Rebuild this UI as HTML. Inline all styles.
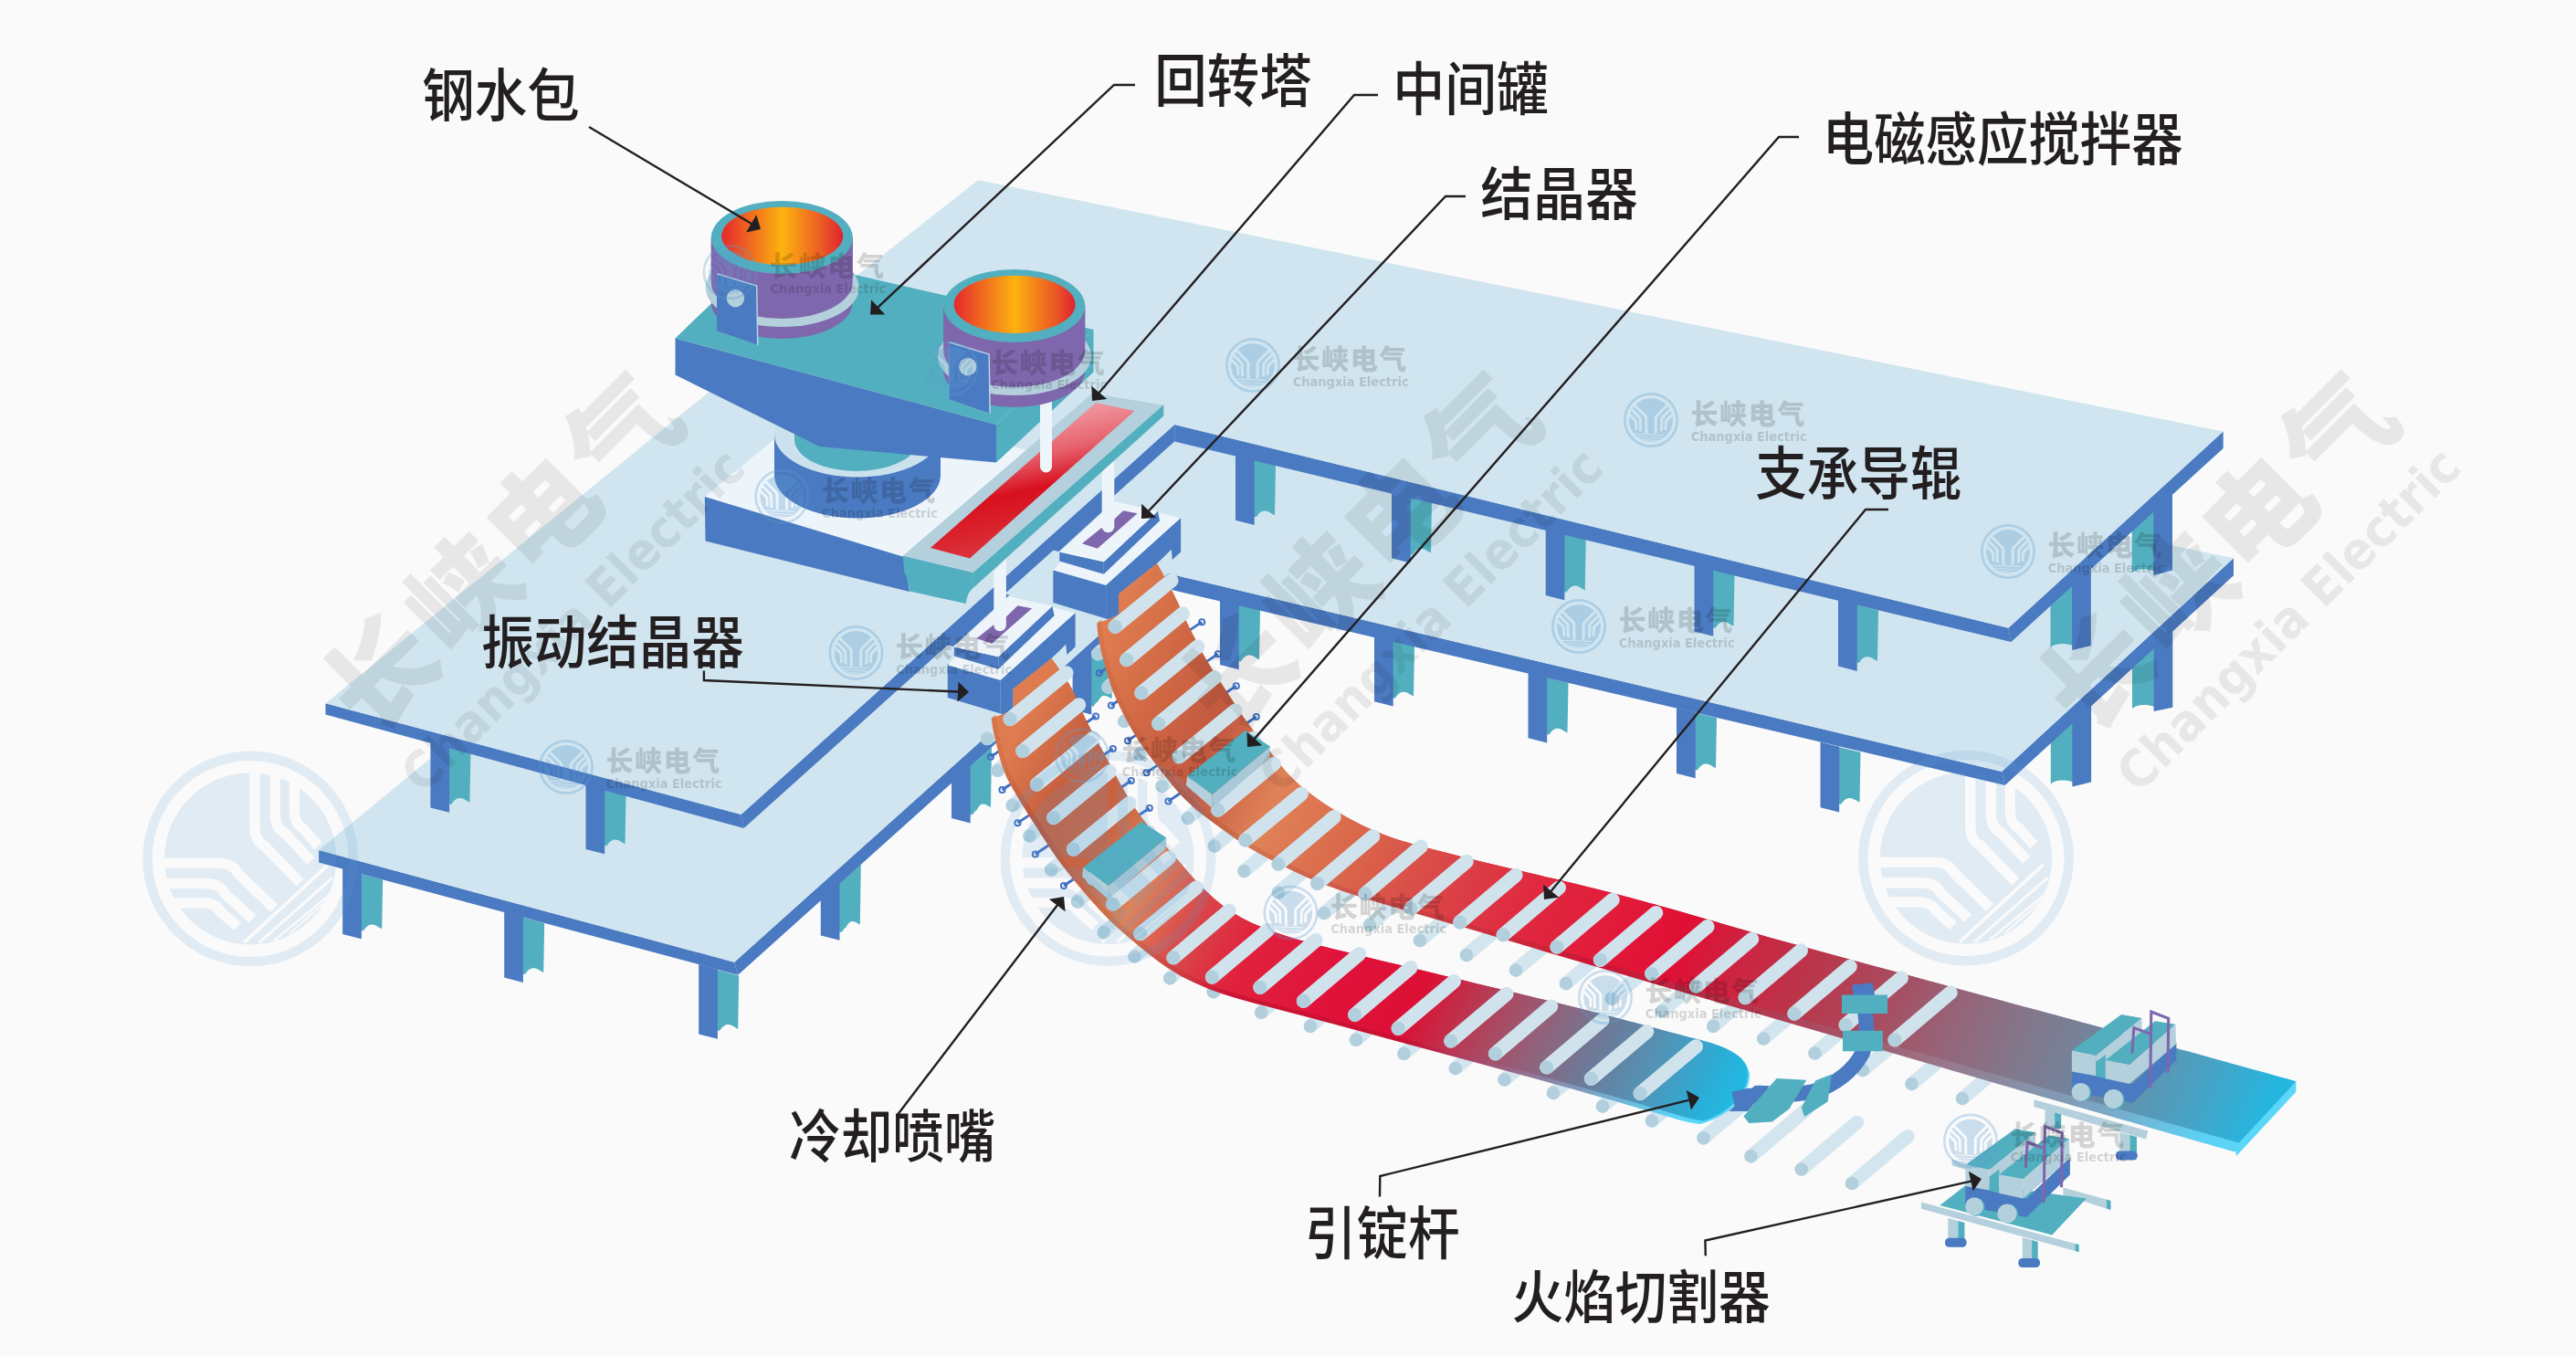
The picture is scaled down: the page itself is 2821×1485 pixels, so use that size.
<!DOCTYPE html>
<html lang="zh"><head><meta charset="utf-8"><title>连铸机示意图</title>
<style>html,body{margin:0;padding:0;background:#fafafa;overflow:hidden}svg{display:block}
text{font-family:"Liberation Sans","Noto Sans CJK SC",sans-serif}</style></head>
<body><svg xmlns="http://www.w3.org/2000/svg" width="2821" height="1485" viewBox="0 0 2821 1485">
<rect width="2821" height="1485" fill="#fafafa"/>
<path d="M1355.7,661.7 L1380.0,667.5 L1379.0,722.4 C1372.0,718.4 1368.7,715.9 1363.7,719.0 C1360.7,720.5 1359.7,724.5 1358.2,724.5 L1355.7,723.5 Z" fill="#52afbf" />
<polygon points="1336.0,656.5 1356.7,661.5 1356.7,733.3 1336.0,728.0" fill="#4a7ac1" />
<path d="M1524.7,701.9 L1549.0,707.7 L1548.0,762.6 C1541.0,758.6 1537.7,756.1 1532.7,759.2 C1529.7,760.7 1528.7,764.7 1527.2,764.7 L1524.7,763.7 Z" fill="#52afbf" />
<polygon points="1505.0,696.7 1525.7,701.6 1525.7,773.5 1505.0,768.2" fill="#4a7ac1" />
<path d="M1693.2,741.9 L1717.5,747.7 L1716.5,802.6 C1709.5,798.6 1706.2,796.1 1701.2,799.2 C1698.2,800.7 1697.2,804.7 1695.7,804.7 L1693.2,803.7 Z" fill="#52afbf" />
<polygon points="1673.5,736.7 1694.2,741.7 1694.2,813.5 1673.5,808.2" fill="#4a7ac1" />
<path d="M1855.7,780.5 L1880.0,786.3 L1879.0,841.3 C1872.0,837.3 1868.7,834.8 1863.7,837.9 C1860.7,839.4 1859.7,843.4 1858.2,843.4 L1855.7,842.4 Z" fill="#52afbf" />
<polygon points="1836.0,775.4 1856.7,780.3 1856.7,852.2 1836.0,846.9" fill="#4a7ac1" />
<path d="M2013.2,818.0 L2037.5,823.7 L2036.5,878.7 C2029.5,874.7 2026.2,872.2 2021.2,875.3 C2018.2,876.8 2017.2,880.8 2015.7,880.8 L2013.2,879.8 Z" fill="#52afbf" />
<polygon points="1993.5,812.8 2014.2,817.7 2014.2,889.6 1993.5,884.3" fill="#4a7ac1" />
<path d="M2270.4,788.9 L2245.8,811.6 L2245.8,858.5 C2250.8,854.5 2258.8,853.0 2270.4,856.5 L2270.4,861.5 Z" fill="#52afbf" />
<polygon points="2269.4,789.4 2290.1,770.4 2290.1,856.5 2269.4,861.5" fill="#4a7ac1" />
<path d="M2359.6,706.8 L2335.0,729.5 L2335.0,776.0 C2340.0,772.0 2348.0,770.5 2359.6,774.0 L2359.6,779.0 Z" fill="#52afbf" />
<polygon points="2358.6,707.3 2379.3,688.2 2379.3,774.7 2358.6,779.0" fill="#4a7ac1" />
<path d="M394.9,956.7 L419.2,963.3 L418.2,1017.3 C411.2,1013.3 407.9,1010.8 402.9,1013.9 C399.9,1015.4 398.9,1019.4 397.4,1019.4 L394.9,1018.4 Z" fill="#52afbf" />
<polygon points="375.2,950.9 395.9,956.5 395.9,1028.2 375.2,1022.9" fill="#4a7ac1" />
<path d="M571.9,1004.4 L596.2,1011.0 L595.2,1065.0 C588.2,1061.0 584.9,1058.5 579.9,1061.6 C576.9,1063.1 575.9,1067.1 574.4,1067.1 L571.9,1066.1 Z" fill="#52afbf" />
<polygon points="552.2,998.6 572.9,1004.2 572.9,1075.9 552.2,1070.6" fill="#4a7ac1" />
<path d="M784.9,1061.8 L809.2,1068.4 L808.2,1126.9 C801.2,1122.9 797.9,1120.4 792.9,1123.5 C789.9,1125.0 788.9,1129.0 787.4,1129.0 L784.9,1128.0 Z" fill="#52afbf" />
<polygon points="765.2,1056.0 785.9,1061.6 785.9,1137.8 765.2,1132.5" fill="#4a7ac1" />
<path d="M918.5,968.2 L942.8,946.4 L941.8,1012.5 C934.8,1008.5 931.5,1006.0 926.5,1015.5 C923.5,1017.0 922.5,1021.0 921.0,1021.0 L918.5,1020.0 Z" fill="#52afbf" />
<polygon points="898.8,985.3 919.5,966.8 919.5,1029.8 898.8,1024.5" fill="#4a7ac1" />
<path d="M1061.7,839.8 L1086.0,818.0 L1085.0,884.1 C1078.0,880.1 1074.7,877.6 1069.7,887.1 C1066.7,888.6 1065.7,892.6 1064.2,892.6 L1061.7,891.6 Z" fill="#52afbf" />
<polygon points="1042.0,856.9 1062.7,838.4 1062.7,901.4 1042.0,896.1" fill="#4a7ac1" />
<path d="M1194.3,720.9 L1218.6,699.1 L1217.6,765.3 C1210.6,761.3 1207.3,758.8 1202.3,768.3 C1199.3,769.8 1198.3,773.8 1196.8,773.8 L1194.3,772.8 Z" fill="#52afbf" />
<polygon points="1174.6,738.1 1195.3,719.5 1195.3,782.6 1174.6,777.3" fill="#4a7ac1" />
<polygon points="349.1,931.1 804.1,1053.7 808.1,1067.7 349.1,944.5" fill="#4a7ac1" />
<polygon points="804.1,1053.7 1279.0,628.0 1279.0,645.0 808.1,1067.7" fill="#4a7ac1" />
<polygon points="1279.0,628.0 2192.2,845.0 2195.7,860.0 1279.0,645.0" fill="#4a7ac1" />
<polygon points="2192.2,845.0 2446.0,611.3 2446.0,630.2 2195.7,860.0" fill="#4a7ac1" />
<polygon points="1080.0,330.0 2446.0,611.3 2192.2,845.0 1279.0,628.0 804.1,1053.7 349.1,931.1" fill="#d0e5ef" />
<path d="M1372.7,502.6 L1397.0,508.5 L1396.0,564.2 C1389.0,560.2 1385.7,557.7 1380.7,560.8 C1377.7,562.3 1376.7,566.3 1375.2,566.3 L1372.7,565.3 Z" fill="#52afbf" />
<polygon points="1353.0,497.3 1373.7,502.3 1373.7,575.1 1353.0,569.8" fill="#4a7ac1" />
<path d="M1543.7,544.0 L1568.0,549.9 L1567.0,605.6 C1560.0,601.6 1556.7,599.1 1551.7,602.2 C1548.7,603.7 1547.7,607.7 1546.2,607.7 L1543.7,606.7 Z" fill="#52afbf" />
<polygon points="1524.0,538.7 1544.7,543.7 1544.7,616.5 1524.0,611.2" fill="#4a7ac1" />
<path d="M1712.4,584.8 L1736.7,590.7 L1735.7,646.4 C1728.7,642.4 1725.4,639.9 1720.4,643.0 C1717.4,644.5 1716.4,648.5 1714.9,648.5 L1712.4,647.5 Z" fill="#52afbf" />
<polygon points="1692.7,579.5 1713.4,584.6 1713.4,657.3 1692.7,652.0" fill="#4a7ac1" />
<path d="M1875.2,624.2 L1899.5,630.1 L1898.5,685.8 C1891.5,681.8 1888.2,679.3 1883.2,682.4 C1880.2,683.9 1879.2,687.9 1877.7,687.9 L1875.2,686.9 Z" fill="#52afbf" />
<polygon points="1855.5,618.9 1876.2,624.0 1876.2,696.7 1855.5,691.4" fill="#4a7ac1" />
<path d="M2032.7,662.4 L2057.0,668.3 L2056.0,724.0 C2049.0,720.0 2045.7,717.5 2040.7,720.6 C2037.7,722.1 2036.7,726.1 2035.2,726.1 L2032.7,725.1 Z" fill="#52afbf" />
<polygon points="2013.0,657.1 2033.7,662.1 2033.7,734.9 2013.0,729.6" fill="#4a7ac1" />
<path d="M2270.1,638.5 L2245.5,661.0 L2245.5,708.9 C2250.5,704.9 2258.5,703.4 2270.1,706.9 L2270.1,711.9 Z" fill="#52afbf" />
<polygon points="2269.1,639.0 2289.8,620.0 2289.8,707.0 2269.1,711.9" fill="#4a7ac1" />
<path d="M2359.3,556.9 L2334.7,579.5 L2334.7,627.2 C2339.7,623.2 2347.7,621.7 2359.3,625.2 L2359.3,630.2 Z" fill="#52afbf" />
<polygon points="2358.3,557.4 2379.0,538.4 2379.0,624.6 2358.3,630.2" fill="#4a7ac1" />
<path d="M491.1,818.7 L515.4,825.2 L514.4,878.8 C507.4,874.8 504.1,872.3 499.1,875.4 C496.1,876.9 495.1,880.9 493.6,880.9 L491.1,879.9 Z" fill="#52afbf" />
<polygon points="471.4,812.9 492.1,818.5 492.1,889.7 471.4,884.4" fill="#4a7ac1" />
<path d="M661.2,864.2 L685.5,870.7 L684.5,924.3 C677.5,920.3 674.2,917.8 669.2,920.9 C666.2,922.4 665.2,926.4 663.7,926.4 L661.2,925.4 Z" fill="#52afbf" />
<polygon points="641.5,858.4 662.2,863.9 662.2,935.2 641.5,929.9" fill="#4a7ac1" />
<polygon points="356.5,770.2 811.6,891.9 814.6,906.9 356.5,782.6" fill="#4a7ac1" />
<polygon points="811.6,891.9 1286.2,465.1 1286.2,483.5 814.6,906.9" fill="#4a7ac1" />
<polygon points="1286.2,465.1 2199.4,687.7 2202.4,703.0 1286.2,483.5" fill="#4a7ac1" />
<polygon points="2199.4,687.7 2434.7,472.5 2434.7,490.9 2202.4,703.0" fill="#4a7ac1" />
<polygon points="1071.1,197.2 2434.7,472.5 2199.4,687.7 1286.2,465.1 811.6,891.9 356.5,770.2 774.9,430.5" fill="#d0e5ef" />
<polygon points="771.8,544.1 905.0,433.5 1150.0,500.0 1040.0,640.0 990.0,610.0" fill="#edf5fb" />
<polygon points="771.8,544.1 990.0,610.0 996.0,648.0 772.5,592.5" fill="#4a7ac1" />
<path d="M848.0,475.5 L848.0,520.5 A91.0,47.0 0 0 0 1030.0,520.5 L1030.0,475.5 Z" fill="#4a7ac1" />
<ellipse cx="939.0" cy="475.5" rx="91.0" ry="47.0" fill="#cbe2ee" />
<path d="M870.0,440.0 L870.0,481.0 A68.0,35.0 0 0 0 1006.0,481.0 L1006.0,440.0 Z" fill="#52afbf" />
<polygon points="739.5,370.5 1091.0,465.0 1091.0,506.5 897.5,489.0 739.5,410.6" fill="#4a7ac1" />
<polygon points="1091.0,465.0 1197.5,361.0 1197.5,407.5 1091.0,506.5" fill="#52afbf" />
<polygon points="739.5,370.5 835.7,277.7 1197.5,361.0 1091.0,465.0" fill="#52afbf" />
<path d="M778.8,260.0 L778.8,331.0 A77.5,40.0 0 0 0 933.8,331.0 L933.8,260.0 Z" fill="#7f67ad" />
<ellipse cx="856.7" cy="315.0" rx="84.0" ry="43.0" fill="#b3d0dc" />
<path d="M778.8,260.0 L778.8,309.0 A77.5,40.0 0 0 0 933.8,309.0 L933.8,260.0 Z" fill="#7f67ad" />
<ellipse cx="856.3" cy="260.0" rx="77.5" ry="40.0" fill="#52afbf" />
<ellipse cx="856.7" cy="258.4" rx="66.5" ry="31.7" fill="url(#melt1)" />
<polygon points="785.0,299.0 829.4,312.4 830.5,378.0 785.0,362.5" fill="#b9d6e3" />
<polygon points="785.0,300.6 828.0,313.6 829.0,377.5 785.0,362.5" fill="#4a7ac1" />
<circle cx="805.4" cy="326.7" r="9.7" fill="#b3d0dc" />
<polygon points="1150.5,602.0 1212.0,545.5 1221.0,547.5 1159.5,604.0" fill="#4a7ac1" />
<polygon points="1153.3,624.6 1221.5,549.3 1293.1,567.3 1211.1,640.9" fill="#edf5fb" />
<polygon points="1153.3,624.6 1211.1,640.9 1211.1,677.4 1153.3,660.1" fill="#4a7ac1" />
<polygon points="1211.1,640.9 1293.1,567.3 1293.1,604.6 1283.8,613.0 1282.8,601.8 1267.0,617.1 1225.1,650.6 1225.1,673.0 1213.9,678.5 1211.1,677.4" fill="#4a7ac1" />
<polygon points="1160.3,604.6 1208.8,615.3 1208.8,628.8 1160.3,614.4" fill="#4a7ac1" />
<polygon points="1208.8,615.3 1267.9,559.8 1270.1,570.3 1208.8,628.8" fill="#4a7ac1" />
<polygon points="1160.3,604.6 1220.4,549.6 1267.9,559.8 1208.8,615.3" fill="#edf5fb" />
<polygon points="1185.0,595.2 1206.4,578.0 1209.0,579.5 1230.0,559.2 1245.6,562.2 1201.8,600.8" fill="#7f67ad" />
<path d="M1206.7,500.0 L1206.7,576.5 A6.8,6.8 0 0 0 1220.3,576.5 L1220.3,500.0 Z" fill="#edf5fb"/>
<path d="M988.9,608.5 L1065.8,627.1 L1065.3,643.9 Q1058.5,650 1057.9,661.1 L996.3,647.6 Q994,632 990.3,627.1 Z" fill="#52afbf" />
<polygon points="1065.8,627.1 1274.0,443.5 1274.0,455.5 1065.3,643.9" fill="#52afbf" stroke="#52afbf" stroke-width="0.6"/>
<polygon points="1196.0,431.0 1274.0,443.5 1065.8,627.1 988.9,608.5" fill="#b3d0dc" />
<polygon points="1200.0,441.0 1242.5,450.0 1062.0,611.5 1019.0,600.0" fill="url(#tun)" />
<path d="M1139,440 L1139,511 A6.5,6.5 0 0 0 1152,511 L1152,440 Z" fill="#edf5fb"/>
<path d="M1033.2,335.0 L1033.2,406.0 A77.5,40.0 0 0 0 1188.2,406.0 L1188.2,335.0 Z" fill="#7f67ad" />
<ellipse cx="1111.1" cy="390.0" rx="84.0" ry="43.0" fill="#b3d0dc" />
<path d="M1033.2,335.0 L1033.2,384.0 A77.5,40.0 0 0 0 1188.2,384.0 L1188.2,335.0 Z" fill="#7f67ad" />
<ellipse cx="1110.7" cy="335.0" rx="77.5" ry="40.0" fill="#52afbf" />
<ellipse cx="1111.1" cy="333.4" rx="66.5" ry="31.7" fill="url(#melt2)" />
<polygon points="1039.4,374.0 1083.8,387.4 1084.9,453.0 1039.4,437.5" fill="#b9d6e3" />
<polygon points="1039.4,375.6 1082.4,388.6 1083.4,452.5 1039.4,437.5" fill="#4a7ac1" />
<circle cx="1059.8" cy="401.7" r="9.7" fill="#b3d0dc" />
<polygon points="2239.5,1212.0 2250.1,1214.0 2250.1,1236.0 2239.5,1236.0" fill="#b3d0dc" />
<polygon points="2250.1,1214.0 2257.2,1216.0 2257.2,1236.0 2250.1,1236.0" fill="#52afbf" />
<polygon points="2321.3,1240.0 2332.4,1243.0 2332.4,1262.0 2321.3,1262.0" fill="#b3d0dc" />
<polygon points="2332.4,1243.0 2340.0,1245.0 2340.0,1262.0 2332.4,1262.0" fill="#52afbf" />
<rect x="2317.0" y="1260.6" width="23.8" height="10.0" rx="4.5" ry="4.5" fill="#4a7ac1"/>
<polygon points="2227.3,1204.2 2352.3,1238.5 2350.0,1247.5 2227.3,1212.0" fill="#b3d0dc" />
<line x1="1202.5" y1="716.0" x2="1263.5" y2="664.5" stroke="#d3e5ee" stroke-width="15.0" stroke-linecap="round"/>
<circle cx="1202.5" cy="716.0" r="7.2" fill="#b1cfdc"/>
<line x1="1213.8" y1="752.5" x2="1274.8" y2="701.0" stroke="#d3e5ee" stroke-width="15.0" stroke-linecap="round"/>
<circle cx="1213.8" cy="752.5" r="7.2" fill="#b1cfdc"/>
<line x1="1231.2" y1="790.0" x2="1292.2" y2="738.5" stroke="#d3e5ee" stroke-width="15.0" stroke-linecap="round"/>
<circle cx="1231.2" cy="790.0" r="7.2" fill="#b1cfdc"/>
<line x1="1248.0" y1="826.0" x2="1309.0" y2="774.5" stroke="#d3e5ee" stroke-width="15.0" stroke-linecap="round"/>
<circle cx="1248.0" cy="826.0" r="7.2" fill="#b1cfdc"/>
<line x1="1272.5" y1="861.0" x2="1333.5" y2="809.5" stroke="#d3e5ee" stroke-width="15.0" stroke-linecap="round"/>
<circle cx="1272.5" cy="861.0" r="7.2" fill="#b1cfdc"/>
<line x1="1301.0" y1="896.0" x2="1362.0" y2="844.5" stroke="#d3e5ee" stroke-width="15.0" stroke-linecap="round"/>
<circle cx="1301.0" cy="896.0" r="7.2" fill="#b1cfdc"/>
<line x1="1330.0" y1="926.5" x2="1391.0" y2="875.0" stroke="#d3e5ee" stroke-width="15.0" stroke-linecap="round"/>
<circle cx="1330.0" cy="926.5" r="7.2" fill="#b1cfdc"/>
<line x1="1362.5" y1="954.0" x2="1423.5" y2="902.5" stroke="#d3e5ee" stroke-width="15.0" stroke-linecap="round"/>
<circle cx="1362.5" cy="954.0" r="7.2" fill="#b1cfdc"/>
<line x1="1400.0" y1="977.5" x2="1461.0" y2="926.0" stroke="#d3e5ee" stroke-width="15.0" stroke-linecap="round"/>
<circle cx="1400.0" cy="977.5" r="7.2" fill="#b1cfdc"/>
<line x1="1450.0" y1="1000.0" x2="1511.0" y2="948.5" stroke="#d3e5ee" stroke-width="15.0" stroke-linecap="round"/>
<circle cx="1450.0" cy="1000.0" r="7.2" fill="#b1cfdc"/>
<line x1="1500.0" y1="1013.0" x2="1561.0" y2="961.5" stroke="#d3e5ee" stroke-width="15.0" stroke-linecap="round"/>
<circle cx="1500.0" cy="1013.0" r="7.2" fill="#b1cfdc"/>
<line x1="1555.0" y1="1030.0" x2="1616.0" y2="978.5" stroke="#d3e5ee" stroke-width="15.0" stroke-linecap="round"/>
<circle cx="1555.0" cy="1030.0" r="7.2" fill="#b1cfdc"/>
<line x1="1606.0" y1="1046.0" x2="1667.0" y2="994.5" stroke="#d3e5ee" stroke-width="15.0" stroke-linecap="round"/>
<circle cx="1606.0" cy="1046.0" r="7.2" fill="#b1cfdc"/>
<line x1="1660.0" y1="1062.5" x2="1721.0" y2="1011.0" stroke="#d3e5ee" stroke-width="15.0" stroke-linecap="round"/>
<circle cx="1660.0" cy="1062.5" r="7.2" fill="#b1cfdc"/>
<line x1="1715.0" y1="1077.0" x2="1776.0" y2="1025.5" stroke="#d3e5ee" stroke-width="15.0" stroke-linecap="round"/>
<circle cx="1715.0" cy="1077.0" r="7.2" fill="#b1cfdc"/>
<line x1="1765.0" y1="1093.8" x2="1826.0" y2="1042.2" stroke="#d3e5ee" stroke-width="15.0" stroke-linecap="round"/>
<circle cx="1765.0" cy="1093.8" r="7.2" fill="#b1cfdc"/>
<line x1="1820.0" y1="1107.5" x2="1881.0" y2="1056.0" stroke="#d3e5ee" stroke-width="15.0" stroke-linecap="round"/>
<circle cx="1820.0" cy="1107.5" r="7.2" fill="#b1cfdc"/>
<line x1="1876.2" y1="1123.8" x2="1937.2" y2="1072.2" stroke="#d3e5ee" stroke-width="15.0" stroke-linecap="round"/>
<circle cx="1876.2" cy="1123.8" r="7.2" fill="#b1cfdc"/>
<line x1="1931.2" y1="1137.5" x2="1992.2" y2="1086.0" stroke="#d3e5ee" stroke-width="15.0" stroke-linecap="round"/>
<circle cx="1931.2" cy="1137.5" r="7.2" fill="#b1cfdc"/>
<line x1="1987.5" y1="1153.5" x2="2048.5" y2="1102.0" stroke="#d3e5ee" stroke-width="15.0" stroke-linecap="round"/>
<circle cx="1987.5" cy="1153.5" r="7.2" fill="#b1cfdc"/>
<line x1="2040.0" y1="1172.0" x2="2101.0" y2="1120.5" stroke="#d3e5ee" stroke-width="15.0" stroke-linecap="round"/>
<circle cx="2040.0" cy="1172.0" r="7.2" fill="#b1cfdc"/>
<line x1="2093.6" y1="1187.0" x2="2154.6" y2="1135.5" stroke="#d3e5ee" stroke-width="15.0" stroke-linecap="round"/>
<circle cx="2093.6" cy="1187.0" r="7.2" fill="#b1cfdc"/>
<line x1="2149.0" y1="1203.0" x2="2210.0" y2="1151.5" stroke="#d3e5ee" stroke-width="15.0" stroke-linecap="round"/>
<circle cx="2149.0" cy="1203.0" r="7.2" fill="#b1cfdc"/>
<line x1="1203.8" y1="737.0" x2="1223.8" y2="723.5" stroke="#3f6fc2" stroke-width="2.8"/>
<circle cx="1203.8" cy="737.0" r="3.1" fill="none" stroke="#3f6fc2" stroke-width="1.9"/>
<line x1="1217.0" y1="772.5" x2="1237.0" y2="759.0" stroke="#3f6fc2" stroke-width="2.8"/>
<circle cx="1217.0" cy="772.5" r="3.1" fill="none" stroke="#3f6fc2" stroke-width="1.9"/>
<line x1="1235.0" y1="811.2" x2="1255.0" y2="797.8" stroke="#3f6fc2" stroke-width="2.8"/>
<circle cx="1235.0" cy="811.2" r="3.1" fill="none" stroke="#3f6fc2" stroke-width="1.9"/>
<line x1="1255.5" y1="846.2" x2="1275.5" y2="832.8" stroke="#3f6fc2" stroke-width="2.8"/>
<circle cx="1255.5" cy="846.2" r="3.1" fill="none" stroke="#3f6fc2" stroke-width="1.9"/>
<line x1="1279.5" y1="877.5" x2="1299.5" y2="864.0" stroke="#3f6fc2" stroke-width="2.8"/>
<circle cx="1279.5" cy="877.5" r="3.1" fill="none" stroke="#3f6fc2" stroke-width="1.9"/>
<line x1="1316.2" y1="681.2" x2="1294.2" y2="695.8" stroke="#3f6fc2" stroke-width="2.8"/>
<circle cx="1316.2" cy="681.2" r="3.1" fill="none" stroke="#3f6fc2" stroke-width="1.9"/>
<line x1="1333.8" y1="716.2" x2="1311.8" y2="730.8" stroke="#3f6fc2" stroke-width="2.8"/>
<circle cx="1333.8" cy="716.2" r="3.1" fill="none" stroke="#3f6fc2" stroke-width="1.9"/>
<line x1="1353.8" y1="751.2" x2="1331.8" y2="765.8" stroke="#3f6fc2" stroke-width="2.8"/>
<circle cx="1353.8" cy="751.2" r="3.1" fill="none" stroke="#3f6fc2" stroke-width="1.9"/>
<line x1="1375.8" y1="785.0" x2="1353.8" y2="799.5" stroke="#3f6fc2" stroke-width="2.8"/>
<circle cx="1375.8" cy="785.0" r="3.1" fill="none" stroke="#3f6fc2" stroke-width="1.9"/>
<path d="M1201.2,682.5 L1213.9,678.5 L1225.1,673 L1225.1,650.6 L1267.0,617.1 C1270.0,622.6 1278.9,637.9 1285.0,650.0 C1291.1,662.1 1297.5,677.5 1303.8,690.0 C1310.0,702.5 1315.6,713.3 1322.5,725.0 C1329.4,736.7 1337.9,749.2 1345.0,760.0 C1352.1,770.8 1357.5,779.7 1365.0,790.0 C1372.5,800.3 1382.2,812.2 1390.0,822.0 C1397.8,831.8 1404.1,840.8 1412.0,849.0 C1419.9,857.2 1427.0,863.3 1437.5,871.0 C1448.0,878.7 1460.4,887.2 1475.0,895.0 C1489.6,902.8 1504.2,910.3 1525.0,917.5 C1545.8,924.7 1575.0,931.6 1600.0,938.0 C1625.0,944.4 1651.0,950.2 1675.0,956.0 C1699.0,961.8 1719.0,966.2 1744.0,972.5 C1769.0,978.8 1790.7,984.4 1825.0,994.0 C1859.3,1003.6 1908.3,1018.3 1950.0,1030.0 C1991.7,1041.7 2033.3,1052.7 2075.0,1064.0 C2116.7,1075.3 2162.5,1087.8 2200.0,1098.0 C2237.5,1108.2 2247.6,1110.6 2300.0,1125.0 C2352.4,1139.4 2478.7,1174.3 2514.4,1184.2 L2447.4,1261.6 C2410.5,1251.0 2288.1,1215.9 2226.0,1198.0 C2163.9,1180.0 2121.0,1167.3 2075.0,1153.9 C2029.0,1140.5 1991.7,1129.7 1950.0,1117.6 C1908.3,1105.5 1866.7,1093.4 1825.0,1081.2 C1783.3,1069.0 1733.3,1054.3 1700.0,1044.4 C1666.7,1034.5 1650.0,1029.2 1625.0,1021.9 C1600.0,1014.5 1575.0,1007.7 1550.0,1000.3 C1525.0,993.0 1495.8,984.6 1475.0,977.5 C1454.2,970.4 1441.7,965.5 1425.0,958.0 C1408.3,950.5 1389.6,940.9 1375.0,932.5 C1360.4,924.1 1350.0,916.7 1337.5,907.5 C1325.0,898.3 1312.1,889.4 1300.0,877.5 C1287.9,865.6 1275.0,848.9 1265.0,836.0 C1255.0,823.1 1247.5,812.7 1240.0,800.0 C1232.5,787.3 1225.4,773.3 1220.0,760.0 C1214.6,746.7 1210.4,730.8 1207.5,720.0 C1204.6,709.2 1203.5,701.2 1202.5,695.0 C1201.5,688.8 1201.4,684.6 1201.2,682.5 Z" fill="url(#g2s)"/>
<polygon points="2514.4,1184.2 2514.4,1195.8 2449.0,1266.0 2447.4,1255.1" fill="#5ad6f8" />
<path d="M1201.2,682.5 L1213.9,678.5 L1225.1,673 L1225.1,650.6 L1267.0,617.1 C1270.0,622.6 1278.9,637.9 1285.0,650.0 C1291.1,662.1 1297.5,677.5 1303.8,690.0 C1310.0,702.5 1315.6,713.3 1322.5,725.0 C1329.4,736.7 1337.9,749.2 1345.0,760.0 C1352.1,770.8 1357.5,779.7 1365.0,790.0 C1372.5,800.3 1382.2,812.2 1390.0,822.0 C1397.8,831.8 1404.1,840.8 1412.0,849.0 C1419.9,857.2 1427.0,863.3 1437.5,871.0 C1448.0,878.7 1460.4,887.2 1475.0,895.0 C1489.6,902.8 1504.2,910.3 1525.0,917.5 C1545.8,924.7 1575.0,931.6 1600.0,938.0 C1625.0,944.4 1651.0,950.2 1675.0,956.0 C1699.0,961.8 1719.0,966.2 1744.0,972.5 C1769.0,978.8 1790.7,984.4 1825.0,994.0 C1859.3,1003.6 1908.3,1018.3 1950.0,1030.0 C1991.7,1041.7 2033.3,1052.7 2075.0,1064.0 C2116.7,1075.3 2162.5,1087.8 2200.0,1098.0 C2237.5,1108.2 2247.6,1110.6 2300.0,1125.0 C2352.4,1139.4 2478.7,1174.3 2514.4,1184.2 L2451.9,1251.6 C2415.0,1241.2 2292.6,1207.0 2230.5,1189.5 C2168.4,1172.0 2125.5,1159.6 2079.5,1146.5 C2033.5,1133.4 1996.2,1122.8 1954.5,1111.0 C1912.8,1099.2 1871.2,1087.4 1829.5,1075.5 C1787.8,1063.6 1737.8,1049.2 1704.5,1039.5 C1671.2,1029.8 1654.5,1024.7 1629.5,1017.5 C1604.5,1010.3 1579.5,1003.8 1554.5,996.5 C1529.5,989.2 1500.3,981.0 1479.5,974.0 C1458.7,967.0 1446.2,962.0 1429.5,954.5 C1412.8,947.0 1394.1,937.4 1379.5,929.0 C1364.9,920.6 1354.5,913.2 1342.0,904.0 C1329.5,894.8 1316.6,885.9 1304.5,874.0 C1292.4,862.1 1279.5,845.4 1269.5,832.5 C1259.5,819.6 1252.0,809.2 1244.5,796.5 C1237.0,783.8 1229.9,769.8 1224.5,756.5 C1219.1,743.2 1214.9,727.3 1212.0,716.5 C1209.1,705.7 1208.0,697.8 1207.0,691.5 C1206.0,685.2 1205.9,681.1 1205.7,679.0 Z" fill="url(#g2)"/>
<line x1="1221.2" y1="686.2" x2="1282.8" y2="635.8" stroke="#d0e3ec" stroke-width="15.5" stroke-linecap="round"/>
<circle cx="1221.2" cy="686.2" r="7.5" fill="#b1cfdc"/>
<line x1="1233.8" y1="722.5" x2="1295.2" y2="672.0" stroke="#d0e3ec" stroke-width="15.5" stroke-linecap="round"/>
<circle cx="1233.8" cy="722.5" r="7.5" fill="#b1cfdc"/>
<line x1="1250.0" y1="758.8" x2="1311.5" y2="708.2" stroke="#d0e3ec" stroke-width="15.5" stroke-linecap="round"/>
<circle cx="1250.0" cy="758.8" r="7.5" fill="#b1cfdc"/>
<line x1="1268.8" y1="792.5" x2="1330.2" y2="742.0" stroke="#d0e3ec" stroke-width="15.5" stroke-linecap="round"/>
<circle cx="1268.8" cy="792.5" r="7.5" fill="#b1cfdc"/>
<line x1="1291.2" y1="828.8" x2="1352.8" y2="778.2" stroke="#d0e3ec" stroke-width="15.5" stroke-linecap="round"/>
<circle cx="1291.2" cy="828.8" r="7.5" fill="#b1cfdc"/>
<line x1="1311.0" y1="859.0" x2="1372.5" y2="808.5" stroke="#d0e3ec" stroke-width="15.5" stroke-linecap="round"/>
<circle cx="1311.0" cy="859.0" r="7.5" fill="#b1cfdc"/>
<line x1="1333.8" y1="887.0" x2="1395.2" y2="836.5" stroke="#d0e3ec" stroke-width="15.5" stroke-linecap="round"/>
<circle cx="1333.8" cy="887.0" r="7.5" fill="#b1cfdc"/>
<line x1="1363.8" y1="920.0" x2="1425.2" y2="869.5" stroke="#d0e3ec" stroke-width="15.5" stroke-linecap="round"/>
<circle cx="1363.8" cy="920.0" r="7.5" fill="#b1cfdc"/>
<line x1="1400.0" y1="946.2" x2="1461.0" y2="894.8" stroke="#d0e3ec" stroke-width="15.5" stroke-linecap="round"/>
<circle cx="1400.0" cy="946.2" r="7.5" fill="#b1cfdc"/>
<line x1="1442.5" y1="967.5" x2="1503.5" y2="916.0" stroke="#d0e3ec" stroke-width="15.5" stroke-linecap="round"/>
<circle cx="1442.5" cy="967.5" r="7.5" fill="#b1cfdc"/>
<line x1="1495.0" y1="978.8" x2="1556.0" y2="927.2" stroke="#d0e3ec" stroke-width="15.5" stroke-linecap="round"/>
<circle cx="1495.0" cy="978.8" r="7.5" fill="#b1cfdc"/>
<line x1="1545.0" y1="995.0" x2="1606.0" y2="943.5" stroke="#d0e3ec" stroke-width="15.5" stroke-linecap="round"/>
<circle cx="1545.0" cy="995.0" r="7.5" fill="#b1cfdc"/>
<line x1="1598.8" y1="1010.0" x2="1659.8" y2="958.5" stroke="#d0e3ec" stroke-width="15.5" stroke-linecap="round"/>
<circle cx="1598.8" cy="1010.0" r="7.5" fill="#b1cfdc"/>
<line x1="1646.2" y1="1023.8" x2="1707.2" y2="972.2" stroke="#d0e3ec" stroke-width="15.5" stroke-linecap="round"/>
<circle cx="1646.2" cy="1023.8" r="7.5" fill="#b1cfdc"/>
<line x1="1705.0" y1="1037.0" x2="1766.0" y2="985.5" stroke="#d0e3ec" stroke-width="15.5" stroke-linecap="round"/>
<circle cx="1705.0" cy="1037.0" r="7.5" fill="#b1cfdc"/>
<line x1="1752.5" y1="1051.2" x2="1813.5" y2="999.8" stroke="#d0e3ec" stroke-width="15.5" stroke-linecap="round"/>
<circle cx="1752.5" cy="1051.2" r="7.5" fill="#b1cfdc"/>
<line x1="1808.8" y1="1066.2" x2="1869.8" y2="1014.8" stroke="#d0e3ec" stroke-width="15.5" stroke-linecap="round"/>
<circle cx="1808.8" cy="1066.2" r="7.5" fill="#b1cfdc"/>
<line x1="1857.5" y1="1080.0" x2="1918.5" y2="1028.5" stroke="#d0e3ec" stroke-width="15.5" stroke-linecap="round"/>
<circle cx="1857.5" cy="1080.0" r="7.5" fill="#b1cfdc"/>
<line x1="1911.2" y1="1092.5" x2="1972.2" y2="1041.0" stroke="#d0e3ec" stroke-width="15.5" stroke-linecap="round"/>
<circle cx="1911.2" cy="1092.5" r="7.5" fill="#b1cfdc"/>
<line x1="1965.0" y1="1110.0" x2="2026.0" y2="1058.5" stroke="#d0e3ec" stroke-width="15.5" stroke-linecap="round"/>
<circle cx="1965.0" cy="1110.0" r="7.5" fill="#b1cfdc"/>
<line x1="2021.2" y1="1122.5" x2="2082.2" y2="1071.0" stroke="#d0e3ec" stroke-width="15.5" stroke-linecap="round"/>
<circle cx="2021.2" cy="1122.5" r="7.5" fill="#b1cfdc"/>
<line x1="2075.0" y1="1138.8" x2="2136.0" y2="1087.2" stroke="#d0e3ec" stroke-width="15.5" stroke-linecap="round"/>
<circle cx="2075.0" cy="1138.8" r="7.5" fill="#b1cfdc"/>
<polygon points="1298.8,860.0 1300.0,850.0 1327.5,870.0 1327.5,885.0" fill="#b3d0dc" />
<polygon points="1327.5,870.0 1391.2,817.5 1390.0,830.0 1327.5,885.0" fill="#a9c9d8" />
<polygon points="1300.0,850.0 1363.7,800.0 1391.2,817.5 1327.5,870.0" fill="#52afbf" />
<polygon points="1035.0,706.0 1096.5,649.5 1105.5,651.5 1044.0,708.0" fill="#4a7ac1" />
<polygon points="1037.8,728.6 1106.0,653.3 1177.6,671.3 1095.6,744.9" fill="#edf5fb" />
<polygon points="1037.8,728.6 1095.6,744.9 1095.6,781.4 1037.8,764.1" fill="#4a7ac1" />
<polygon points="1095.6,744.9 1177.6,671.3 1177.6,708.6 1168.3,717.0 1167.3,705.8 1151.5,721.1 1109.6,754.6 1109.6,777.0 1098.4,782.5 1095.6,781.4" fill="#4a7ac1" />
<polygon points="1044.8,708.6 1093.3,719.3 1093.3,732.8 1044.8,718.4" fill="#4a7ac1" />
<polygon points="1093.3,719.3 1152.4,663.8 1154.6,674.3 1093.3,732.8" fill="#4a7ac1" />
<polygon points="1044.8,708.6 1104.9,653.6 1152.4,663.8 1093.3,719.3" fill="#edf5fb" />
<polygon points="1069.5,699.2 1090.9,682.0 1093.5,683.5 1114.5,663.2 1130.1,666.2 1086.3,704.8" fill="#7f67ad" />
<path d="M1088.3,626.0 L1088.3,684.5 A6.8,6.8 0 0 0 1101.9,684.5 L1101.9,612.0 Z" fill="#edf5fb"/>
<line x1="1081.2" y1="808.8" x2="1142.2" y2="757.2" stroke="#d3e5ee" stroke-width="15.0" stroke-linecap="round"/>
<circle cx="1081.2" cy="808.8" r="7.2" fill="#b1cfdc"/>
<line x1="1092.5" y1="843.8" x2="1153.5" y2="792.2" stroke="#d3e5ee" stroke-width="15.0" stroke-linecap="round"/>
<circle cx="1092.5" cy="843.8" r="7.2" fill="#b1cfdc"/>
<line x1="1108.8" y1="882.0" x2="1169.8" y2="830.5" stroke="#d3e5ee" stroke-width="15.0" stroke-linecap="round"/>
<circle cx="1108.8" cy="882.0" r="7.2" fill="#b1cfdc"/>
<line x1="1127.5" y1="915.5" x2="1188.5" y2="864.0" stroke="#d3e5ee" stroke-width="15.0" stroke-linecap="round"/>
<circle cx="1127.5" cy="915.5" r="7.2" fill="#b1cfdc"/>
<line x1="1151.2" y1="952.5" x2="1212.2" y2="901.0" stroke="#d3e5ee" stroke-width="15.0" stroke-linecap="round"/>
<circle cx="1151.2" cy="952.5" r="7.2" fill="#b1cfdc"/>
<line x1="1180.0" y1="987.5" x2="1241.0" y2="936.0" stroke="#d3e5ee" stroke-width="15.0" stroke-linecap="round"/>
<circle cx="1180.0" cy="987.5" r="7.2" fill="#b1cfdc"/>
<line x1="1208.8" y1="1021.2" x2="1269.8" y2="969.8" stroke="#d3e5ee" stroke-width="15.0" stroke-linecap="round"/>
<circle cx="1208.8" cy="1021.2" r="7.2" fill="#b1cfdc"/>
<line x1="1242.5" y1="1047.5" x2="1303.5" y2="996.0" stroke="#d3e5ee" stroke-width="15.0" stroke-linecap="round"/>
<circle cx="1242.5" cy="1047.5" r="7.2" fill="#b1cfdc"/>
<line x1="1281.2" y1="1071.2" x2="1342.2" y2="1019.8" stroke="#d3e5ee" stroke-width="15.0" stroke-linecap="round"/>
<circle cx="1281.2" cy="1071.2" r="7.2" fill="#b1cfdc"/>
<line x1="1328.8" y1="1086.2" x2="1389.8" y2="1034.8" stroke="#d3e5ee" stroke-width="15.0" stroke-linecap="round"/>
<circle cx="1328.8" cy="1086.2" r="7.2" fill="#b1cfdc"/>
<line x1="1381.2" y1="1108.8" x2="1442.2" y2="1057.2" stroke="#d3e5ee" stroke-width="15.0" stroke-linecap="round"/>
<circle cx="1381.2" cy="1108.8" r="7.2" fill="#b1cfdc"/>
<line x1="1435.0" y1="1123.8" x2="1496.0" y2="1072.2" stroke="#d3e5ee" stroke-width="15.0" stroke-linecap="round"/>
<circle cx="1435.0" cy="1123.8" r="7.2" fill="#b1cfdc"/>
<line x1="1485.0" y1="1138.8" x2="1546.0" y2="1087.2" stroke="#d3e5ee" stroke-width="15.0" stroke-linecap="round"/>
<circle cx="1485.0" cy="1138.8" r="7.2" fill="#b1cfdc"/>
<line x1="1537.5" y1="1153.8" x2="1598.5" y2="1102.2" stroke="#d3e5ee" stroke-width="15.0" stroke-linecap="round"/>
<circle cx="1537.5" cy="1153.8" r="7.2" fill="#b1cfdc"/>
<line x1="1593.8" y1="1170.0" x2="1654.8" y2="1118.5" stroke="#d3e5ee" stroke-width="15.0" stroke-linecap="round"/>
<circle cx="1593.8" cy="1170.0" r="7.2" fill="#b1cfdc"/>
<line x1="1647.5" y1="1182.5" x2="1708.5" y2="1131.0" stroke="#d3e5ee" stroke-width="15.0" stroke-linecap="round"/>
<circle cx="1647.5" cy="1182.5" r="7.2" fill="#b1cfdc"/>
<line x1="1701.0" y1="1197.0" x2="1762.0" y2="1145.5" stroke="#d3e5ee" stroke-width="15.0" stroke-linecap="round"/>
<circle cx="1701.0" cy="1197.0" r="7.2" fill="#b1cfdc"/>
<line x1="1755.0" y1="1211.5" x2="1816.0" y2="1160.0" stroke="#d3e5ee" stroke-width="15.0" stroke-linecap="round"/>
<circle cx="1755.0" cy="1211.5" r="7.2" fill="#b1cfdc"/>
<line x1="1809.0" y1="1227.5" x2="1870.0" y2="1176.0" stroke="#d3e5ee" stroke-width="15.0" stroke-linecap="round"/>
<circle cx="1809.0" cy="1227.5" r="7.2" fill="#b1cfdc"/>
<line x1="1865.5" y1="1246.3" x2="1926.5" y2="1194.8" stroke="#d3e5ee" stroke-width="15.0" stroke-linecap="round"/>
<circle cx="1865.5" cy="1246.3" r="7.2" fill="#b1cfdc"/>
<line x1="1917.5" y1="1266.2" x2="1978.5" y2="1214.7" stroke="#d3e5ee" stroke-width="15.0" stroke-linecap="round"/>
<circle cx="1917.5" cy="1266.2" r="7.2" fill="#b1cfdc"/>
<line x1="1972.8" y1="1280.6" x2="2033.8" y2="1229.1" stroke="#d3e5ee" stroke-width="15.0" stroke-linecap="round"/>
<circle cx="1972.8" cy="1280.6" r="7.2" fill="#b1cfdc"/>
<line x1="2028.1" y1="1296.0" x2="2089.1" y2="1244.5" stroke="#d3e5ee" stroke-width="15.0" stroke-linecap="round"/>
<circle cx="2028.1" cy="1296.0" r="7.2" fill="#b1cfdc"/>
<line x1="1085.0" y1="828.8" x2="1105.0" y2="815.2" stroke="#3f6fc2" stroke-width="2.8"/>
<circle cx="1085.0" cy="828.8" r="3.1" fill="none" stroke="#3f6fc2" stroke-width="1.9"/>
<line x1="1097.5" y1="865.0" x2="1117.5" y2="851.5" stroke="#3f6fc2" stroke-width="2.8"/>
<circle cx="1097.5" cy="865.0" r="3.1" fill="none" stroke="#3f6fc2" stroke-width="1.9"/>
<line x1="1114.5" y1="901.2" x2="1134.5" y2="887.8" stroke="#3f6fc2" stroke-width="2.8"/>
<circle cx="1114.5" cy="901.2" r="3.1" fill="none" stroke="#3f6fc2" stroke-width="1.9"/>
<line x1="1133.8" y1="935.5" x2="1153.8" y2="922.0" stroke="#3f6fc2" stroke-width="2.8"/>
<circle cx="1133.8" cy="935.5" r="3.1" fill="none" stroke="#3f6fc2" stroke-width="1.9"/>
<line x1="1165.0" y1="970.0" x2="1185.0" y2="956.5" stroke="#3f6fc2" stroke-width="2.8"/>
<circle cx="1165.0" cy="970.0" r="3.1" fill="none" stroke="#3f6fc2" stroke-width="1.9"/>
<line x1="1200.0" y1="784.5" x2="1178.0" y2="799.0" stroke="#3f6fc2" stroke-width="2.8"/>
<circle cx="1200.0" cy="784.5" r="3.1" fill="none" stroke="#3f6fc2" stroke-width="1.9"/>
<line x1="1218.8" y1="820.0" x2="1196.8" y2="834.5" stroke="#3f6fc2" stroke-width="2.8"/>
<circle cx="1218.8" cy="820.0" r="3.1" fill="none" stroke="#3f6fc2" stroke-width="1.9"/>
<line x1="1238.8" y1="855.0" x2="1216.8" y2="869.5" stroke="#3f6fc2" stroke-width="2.8"/>
<circle cx="1238.8" cy="855.0" r="3.1" fill="none" stroke="#3f6fc2" stroke-width="1.9"/>
<line x1="1258.8" y1="885.0" x2="1236.8" y2="899.5" stroke="#3f6fc2" stroke-width="2.8"/>
<circle cx="1258.8" cy="885.0" r="3.1" fill="none" stroke="#3f6fc2" stroke-width="1.9"/>
<path d="M1085.7,786.5 L1098.4,782.5 L1109.6,777 L1109.6,754.6 L1151.5,721.1 C1155.0,726.2 1166.1,740.5 1172.5,752.0 C1178.9,763.5 1183.8,777.5 1190.0,790.0 C1196.2,802.5 1203.3,814.7 1210.0,827.0 C1216.7,839.3 1224.2,853.8 1230.0,864.0 C1235.8,874.2 1239.7,880.3 1245.0,888.0 C1250.3,895.7 1254.5,901.0 1262.0,910.0 C1269.5,919.0 1281.6,932.4 1290.0,942.0 C1298.4,951.6 1304.2,959.1 1312.5,967.5 C1320.8,975.9 1329.6,985.0 1340.0,992.5 C1350.4,1000.0 1360.8,1006.2 1375.0,1012.5 C1389.2,1018.8 1404.2,1023.9 1425.0,1030.0 C1445.8,1036.1 1475.0,1042.8 1500.0,1049.0 C1525.0,1055.2 1550.0,1061.0 1575.0,1067.0 C1600.0,1073.0 1621.8,1078.2 1650.0,1085.0 C1678.2,1091.8 1710.7,1099.5 1744.0,1108.0 C1777.3,1116.5 1832.3,1131.3 1850.0,1136.0 C1880,1143 1912,1152 1916,1176 C1917,1198 1895,1222 1862,1231 C1859.2,1230.5 1855.3,1230.7 1845.0,1228.0 C1834.7,1225.3 1820.0,1220.8 1800.0,1215.0 C1780.0,1209.2 1754.2,1201.7 1725.0,1193.5 C1695.8,1185.3 1658.3,1175.1 1625.0,1166.0 C1591.7,1156.9 1558.3,1148.0 1525.0,1139.0 C1491.7,1130.0 1454.2,1119.8 1425.0,1112.0 C1395.8,1104.2 1369.6,1098.0 1350.0,1092.0 C1330.4,1086.0 1320.0,1081.8 1307.5,1076.0 C1295.0,1070.2 1286.2,1065.2 1275.0,1057.5 C1263.8,1049.8 1251.2,1039.6 1240.0,1030.0 C1228.8,1020.4 1220.0,1013.3 1207.5,1000.0 C1195.0,986.7 1177.5,966.3 1165.0,950.0 C1152.5,933.7 1142.0,916.7 1132.5,902.0 C1123.0,887.3 1113.8,872.3 1108.0,862.0 C1102.2,851.7 1100.9,848.2 1098.0,840.0 C1095.1,831.8 1092.2,819.3 1090.5,812.5 C1088.8,805.7 1088.3,803.3 1087.5,799.0 C1086.7,794.7 1086.0,788.6 1085.7,786.5 Z" fill="url(#g1s)"/>
<path d="M1085.7,786.5 L1098.4,782.5 L1109.6,777 L1109.6,754.6 L1151.5,721.1 C1155.0,726.2 1166.1,740.5 1172.5,752.0 C1178.9,763.5 1183.8,777.5 1190.0,790.0 C1196.2,802.5 1203.3,814.7 1210.0,827.0 C1216.7,839.3 1224.2,853.8 1230.0,864.0 C1235.8,874.2 1239.7,880.3 1245.0,888.0 C1250.3,895.7 1254.5,901.0 1262.0,910.0 C1269.5,919.0 1281.6,932.4 1290.0,942.0 C1298.4,951.6 1304.2,959.1 1312.5,967.5 C1320.8,975.9 1329.6,985.0 1340.0,992.5 C1350.4,1000.0 1360.8,1006.2 1375.0,1012.5 C1389.2,1018.8 1404.2,1023.9 1425.0,1030.0 C1445.8,1036.1 1475.0,1042.8 1500.0,1049.0 C1525.0,1055.2 1550.0,1061.0 1575.0,1067.0 C1600.0,1073.0 1621.8,1078.2 1650.0,1085.0 C1678.2,1091.8 1710.7,1099.5 1744.0,1108.0 C1777.3,1116.5 1832.3,1131.3 1850.0,1136.0 C1880,1143 1912,1152 1914,1174 C1915,1196 1895,1218 1866,1227.5 C1863.7,1227.0 1859.8,1227.2 1849.5,1224.5 C1839.2,1221.8 1824.5,1217.2 1804.5,1211.5 C1784.5,1205.8 1758.7,1198.2 1729.5,1190.0 C1700.3,1181.8 1662.8,1171.6 1629.5,1162.5 C1596.2,1153.4 1562.8,1144.5 1529.5,1135.5 C1496.2,1126.5 1458.7,1116.3 1429.5,1108.5 C1400.3,1100.7 1374.1,1094.5 1354.5,1088.5 C1334.9,1082.5 1324.5,1078.2 1312.0,1072.5 C1299.5,1066.8 1290.8,1061.7 1279.5,1054.0 C1268.2,1046.3 1255.8,1036.1 1244.5,1026.5 C1233.2,1016.9 1224.5,1009.8 1212.0,996.5 C1199.5,983.2 1182.0,962.8 1169.5,946.5 C1157.0,930.2 1146.5,913.2 1137.0,898.5 C1127.5,883.8 1118.2,868.8 1112.5,858.5 C1106.8,848.2 1105.4,844.8 1102.5,836.5 C1099.6,828.2 1096.8,815.8 1095.0,809.0 C1093.2,802.2 1092.8,799.8 1092.0,795.5 C1091.2,791.2 1090.5,785.1 1090.2,783.0 Z" fill="url(#g1)"/>
<line x1="1106.2" y1="787.5" x2="1167.8" y2="737.0" stroke="#d0e3ec" stroke-width="15.5" stroke-linecap="round"/>
<circle cx="1106.2" cy="787.5" r="7.5" fill="#b1cfdc"/>
<line x1="1120.0" y1="822.5" x2="1181.5" y2="772.0" stroke="#d0e3ec" stroke-width="15.5" stroke-linecap="round"/>
<circle cx="1120.0" cy="822.5" r="7.5" fill="#b1cfdc"/>
<line x1="1135.5" y1="859.0" x2="1197.0" y2="808.5" stroke="#d0e3ec" stroke-width="15.5" stroke-linecap="round"/>
<circle cx="1135.5" cy="859.0" r="7.5" fill="#b1cfdc"/>
<line x1="1153.8" y1="895.5" x2="1215.2" y2="845.0" stroke="#d0e3ec" stroke-width="15.5" stroke-linecap="round"/>
<circle cx="1153.8" cy="895.5" r="7.5" fill="#b1cfdc"/>
<line x1="1175.5" y1="930.0" x2="1237.0" y2="879.5" stroke="#d0e3ec" stroke-width="15.5" stroke-linecap="round"/>
<circle cx="1175.5" cy="930.0" r="7.5" fill="#b1cfdc"/>
<line x1="1197.0" y1="962.0" x2="1258.5" y2="911.5" stroke="#d0e3ec" stroke-width="15.5" stroke-linecap="round"/>
<circle cx="1197.0" cy="962.0" r="7.5" fill="#b1cfdc"/>
<line x1="1218.8" y1="990.0" x2="1280.2" y2="939.5" stroke="#d0e3ec" stroke-width="15.5" stroke-linecap="round"/>
<circle cx="1218.8" cy="990.0" r="7.5" fill="#b1cfdc"/>
<line x1="1248.8" y1="1022.5" x2="1310.2" y2="972.0" stroke="#d0e3ec" stroke-width="15.5" stroke-linecap="round"/>
<circle cx="1248.8" cy="1022.5" r="7.5" fill="#b1cfdc"/>
<line x1="1285.0" y1="1048.8" x2="1346.0" y2="997.2" stroke="#d0e3ec" stroke-width="15.5" stroke-linecap="round"/>
<circle cx="1285.0" cy="1048.8" r="7.5" fill="#b1cfdc"/>
<line x1="1327.5" y1="1070.0" x2="1388.5" y2="1018.5" stroke="#d0e3ec" stroke-width="15.5" stroke-linecap="round"/>
<circle cx="1327.5" cy="1070.0" r="7.5" fill="#b1cfdc"/>
<line x1="1380.0" y1="1081.2" x2="1441.0" y2="1029.8" stroke="#d0e3ec" stroke-width="15.5" stroke-linecap="round"/>
<circle cx="1380.0" cy="1081.2" r="7.5" fill="#b1cfdc"/>
<line x1="1427.5" y1="1096.2" x2="1488.5" y2="1044.8" stroke="#d0e3ec" stroke-width="15.5" stroke-linecap="round"/>
<circle cx="1427.5" cy="1096.2" r="7.5" fill="#b1cfdc"/>
<line x1="1483.8" y1="1111.2" x2="1544.8" y2="1059.8" stroke="#d0e3ec" stroke-width="15.5" stroke-linecap="round"/>
<circle cx="1483.8" cy="1111.2" r="7.5" fill="#b1cfdc"/>
<line x1="1531.2" y1="1126.2" x2="1592.2" y2="1074.8" stroke="#d0e3ec" stroke-width="15.5" stroke-linecap="round"/>
<circle cx="1531.2" cy="1126.2" r="7.5" fill="#b1cfdc"/>
<line x1="1588.8" y1="1140.0" x2="1649.8" y2="1088.5" stroke="#d0e3ec" stroke-width="15.5" stroke-linecap="round"/>
<circle cx="1588.8" cy="1140.0" r="7.5" fill="#b1cfdc"/>
<line x1="1637.5" y1="1153.8" x2="1698.5" y2="1102.2" stroke="#d0e3ec" stroke-width="15.5" stroke-linecap="round"/>
<circle cx="1637.5" cy="1153.8" r="7.5" fill="#b1cfdc"/>
<line x1="1693.8" y1="1168.8" x2="1754.8" y2="1117.2" stroke="#d0e3ec" stroke-width="15.5" stroke-linecap="round"/>
<circle cx="1693.8" cy="1168.8" r="7.5" fill="#b1cfdc"/>
<line x1="1742.5" y1="1181.2" x2="1803.5" y2="1129.8" stroke="#d0e3ec" stroke-width="15.5" stroke-linecap="round"/>
<circle cx="1742.5" cy="1181.2" r="7.5" fill="#b1cfdc"/>
<line x1="1796.2" y1="1197.5" x2="1857.2" y2="1146.0" stroke="#d0e3ec" stroke-width="15.5" stroke-linecap="round"/>
<circle cx="1796.2" cy="1197.5" r="7.5" fill="#b1cfdc"/>
<polygon points="1185.0,960.0 1186.2,950.0 1213.8,970.0 1213.8,985.0" fill="#b3d0dc" />
<polygon points="1213.8,970.0 1277.5,917.5 1276.2,930.0 1213.8,985.0" fill="#a9c9d8" />
<polygon points="1186.2,950.0 1250.0,900.0 1277.5,917.5 1213.8,970.0" fill="#52afbf" />
<path d="M1898,1203.5 L1915.5,1200 C1945,1200 1970,1199 1987,1195 C2010,1188 2030,1172 2039.8,1153 C2044,1140 2044,1125 2043.6,1119 L2039.5,1084" fill="none" stroke="#4a7ac1" stroke-width="16.5"/>
<polygon points="1893.5,1217.0 1921.5,1189.0 1938.0,1189.0 1914.0,1217.0" fill="#4a7ac1" />
<polygon points="2028.0,1078.7 2050.6,1076.3 2053.5,1092.0 2030.0,1092.0" fill="#4a7ac1" />
<polygon points="1909.3,1222.6 1945.6,1181.0 1978.3,1182.8 1959.5,1214.2 1940.7,1228.6 1915.3,1230.1" fill="#52afbf" />
<polygon points="1972.8,1213.1 1988.3,1183.2 2006.0,1176.6 2001.6,1206.4 1976.1,1223.0" fill="#52afbf" />
<polygon points="2018.0,1128.8 2061.8,1128.8 2061.8,1151.2 2018.0,1151.2" fill="#52afbf" />
<polygon points="2017.0,1089.5 2067.0,1089.5 2067.0,1110.0 2017.0,1110.0" fill="#52afbf" />
<polygon points="2268.9,1172.0 2335.8,1187.0 2383.4,1142.0 2383.4,1161.0 2335.8,1207.5 2268.9,1195.9" fill="#4a7ac1" />
<polygon points="2295.1,1155.7 2345.5,1114.9 2345.5,1136.9 2295.1,1177.7" fill="#b3d0dc" />
<polygon points="2268.9,1150.3 2295.1,1155.7 2295.1,1178.2 2268.9,1173.6" fill="#b3d0dc" />
<polygon points="2295.1,1163.0 2306.0,1155.0 2306.0,1181.3 2295.1,1178.5" fill="#52afbf" />
<polygon points="2268.9,1150.3 2323.2,1110.9 2345.5,1114.9 2295.1,1155.7" fill="#52afbf" />
<polygon points="2332.0,1165.8 2382.4,1121.7 2383.0,1143.5 2332.0,1187.1" fill="#b3d0dc" />
<polygon points="2305.7,1160.9 2332.0,1165.8 2332.0,1187.1 2305.7,1181.3" fill="#b3d0dc" />
<polygon points="2305.7,1160.9 2360.1,1118.2 2382.4,1121.7 2332.0,1165.8" fill="#52afbf" />
<circle cx="2280.2" cy="1196.5" r="10.0" fill="#52afbf" />
<circle cx="2278.6" cy="1195.9" r="10.0" fill="#b3d0dc" />
<circle cx="2316.1" cy="1204.2" r="10.6" fill="#52afbf" />
<circle cx="2314.5" cy="1203.6" r="10.6" fill="#b3d0dc" />
<path d="M2334.9,1153.6 L2336.8,1125.6 L2355.0,1132.2" fill="none" stroke="#7f67ad" stroke-width="3.1"/>
<path d="M2354.7,1192.0 L2355.8,1108.1 L2374.7,1115.3 L2374.1,1174.9" fill="none" stroke="#7f67ad" stroke-width="3.1"/>
<polygon points="2259.4,1300.5 2311.4,1314.9 2311.4,1325.0 2259.4,1308.5" fill="#b3d0dc" />
<polygon points="2307.0,1313.7 2311.4,1314.9 2311.4,1325.0 2307.0,1323.6" fill="#52afbf" />
<polygon points="2137.7,1269.5 2153.0,1273.5 2153.0,1281.0 2137.7,1276.5" fill="#b3d0dc" />
<polygon points="2124.4,1320.0 2156.5,1295.0 2284.8,1312.6 2247.2,1352.5" fill="#52afbf" />
<polygon points="2133.3,1334.0 2144.3,1337.0 2144.3,1358.0 2133.3,1358.0" fill="#b3d0dc" />
<polygon points="2144.3,1337.0 2151.4,1339.0 2151.4,1358.0 2144.3,1358.0" fill="#52afbf" />
<rect x="2130.0" y="1355.8" width="23.6" height="10.0" rx="4.5" ry="4.5" fill="#4a7ac1"/>
<polygon points="2214.7,1355.0 2225.1,1358.0 2225.1,1380.0 2214.7,1380.0" fill="#b3d0dc" />
<polygon points="2225.1,1358.0 2231.7,1360.0 2231.7,1380.0 2225.1,1380.0" fill="#52afbf" />
<rect x="2210.3" y="1378.0" width="23.7" height="10.0" rx="4.5" ry="4.5" fill="#4a7ac1"/>
<polygon points="2152.4,1297.4 2219.3,1312.4 2266.9,1267.4 2266.9,1286.4 2219.3,1332.9 2152.4,1321.3" fill="#4a7ac1" />
<polygon points="2178.6,1281.1 2229.0,1240.3 2229.0,1262.3 2178.6,1303.1" fill="#b3d0dc" />
<polygon points="2152.4,1275.7 2178.6,1281.1 2178.6,1303.6 2152.4,1299.0" fill="#b3d0dc" />
<polygon points="2178.6,1288.4 2189.5,1280.4 2189.5,1306.7 2178.6,1303.9" fill="#52afbf" />
<polygon points="2152.4,1275.7 2206.7,1236.3 2229.0,1240.3 2178.6,1281.1" fill="#52afbf" />
<polygon points="2215.5,1291.2 2265.9,1247.1 2266.5,1268.9 2215.5,1312.5" fill="#b3d0dc" />
<polygon points="2189.2,1286.3 2215.5,1291.2 2215.5,1312.5 2189.2,1306.7" fill="#b3d0dc" />
<polygon points="2189.2,1286.3 2243.6,1243.6 2265.9,1247.1 2215.5,1291.2" fill="#52afbf" />
<circle cx="2163.7" cy="1321.9" r="10.0" fill="#52afbf" />
<circle cx="2162.1" cy="1321.3" r="10.0" fill="#b3d0dc" />
<circle cx="2199.6" cy="1329.6" r="10.6" fill="#52afbf" />
<circle cx="2198.0" cy="1329.0" r="10.6" fill="#b3d0dc" />
<path d="M2218.4,1279.0 L2220.3,1251.0 L2238.5,1257.6" fill="none" stroke="#7f67ad" stroke-width="3.1"/>
<path d="M2238.2,1317.4 L2239.3,1233.5 L2258.2,1240.7 L2257.6,1300.3" fill="none" stroke="#7f67ad" stroke-width="3.1"/>
<polygon points="2104.0,1316.4 2276.0,1362.9 2276.0,1371.0 2104.0,1323.7" fill="#b3d0dc" />
<polygon points="2272.7,1362.0 2276.7,1363.1 2276.7,1371.2 2272.7,1370.0" fill="#52afbf" />
<g transform="translate(274.2,940.4) rotate(-45) scale(3.93)" opacity="0.52"><use href="#wmb"/></g>
<g transform="translate(1213.6,940.0) rotate(-45) scale(3.93)" opacity="0.52"><use href="#wmb"/></g>
<g transform="translate(2153.0,939.6) rotate(-45) scale(3.93)" opacity="0.52"><use href="#wmb"/></g>
<use href="#wm" x="799.6" y="298.1"/>
<use href="#wm" x="1041.5" y="403.5"/>
<use href="#wm" x="1372.0" y="400.0"/>
<use href="#wm" x="1808.0" y="460.0"/>
<use href="#wm" x="856.3" y="543.8"/>
<use href="#wm" x="2199.0" y="604.0"/>
<use href="#wm" x="937.5" y="715.0"/>
<use href="#wm" x="1729.0" y="686.0"/>
<use href="#wm" x="620.0" y="840.0"/>
<use href="#wm" x="1185.0" y="827.5"/>
<use href="#wm" x="1413.5" y="999.5"/>
<use href="#wm" x="1758.0" y="1092.0"/>
<use href="#wm" x="2158.0" y="1249.5"/>
<text transform="translate(462.3,127.4) scale(1,1.090)" font-size="57.5" fill="#231f20" font-weight="500">钢水包</text>
<text transform="translate(1264.3,110.9) scale(1,1.090)" font-size="57.5" fill="#231f20" font-weight="500">回转塔</text>
<text transform="translate(1525.3,120.4) scale(1,1.101)" font-size="56.9" fill="#231f20" font-weight="500">中间罐</text>
<text transform="translate(1995.8,174.9) scale(1,1.111)" font-size="56.4" fill="#231f20" font-weight="500">电磁感应搅拌器</text>
<text transform="translate(1621.3,234.9) scale(1,1.090)" font-size="57.5" fill="#231f20" font-weight="500">结晶器</text>
<text transform="translate(1922.3,540.9) scale(1,1.109)" font-size="56.5" fill="#231f20" font-weight="500">支承导辊</text>
<text transform="translate(527.3,725.5) scale(1,1.090)" font-size="57.5" fill="#231f20" font-weight="500">振动结晶器</text>
<text transform="translate(864.3,1267.4) scale(1,1.109)" font-size="56.5" fill="#231f20" font-weight="500">冷却喷嘴</text>
<text transform="translate(1428.8,1372.9) scale(1,1.107)" font-size="56.6" fill="#231f20" font-weight="500">引锭杆</text>
<text transform="translate(1655.6,1442.6) scale(1,1.107)" font-size="56.6" fill="#231f20" font-weight="500">火焰切割器</text>
<path d="M645.0,139.0 L826.8,247.3" fill="none" stroke="#231f20" stroke-width="2.4" stroke-linejoin="miter"/>
<polygon points="833.0,251.0 817.0,254.4 828.4,235.3" fill="#231f20" />
<path d="M1243.0,93.0 L1220.0,93.0 L958.2,339.6" fill="none" stroke="#231f20" stroke-width="2.4" stroke-linejoin="miter"/>
<polygon points="953.0,344.5 954.1,328.2 969.3,344.4" fill="#231f20" />
<path d="M1509.0,104.0 L1483.0,104.0 L1200.7,433.5" fill="none" stroke="#231f20" stroke-width="2.4" stroke-linejoin="miter"/>
<polygon points="1196.0,439.0 1195.4,422.7 1212.2,437.1" fill="#231f20" />
<path d="M1605.0,215.0 L1583.0,215.0 L1254.9,562.8" fill="none" stroke="#231f20" stroke-width="2.4" stroke-linejoin="miter"/>
<polygon points="1250.0,568.0 1250.2,551.7 1266.3,566.9" fill="#231f20" />
<path d="M1970.0,150.0 L1948.0,150.0 L1370.7,812.6" fill="none" stroke="#231f20" stroke-width="2.4" stroke-linejoin="miter"/>
<polygon points="1366.0,818.0 1365.5,801.7 1382.3,816.2" fill="#231f20" />
<path d="M2068.0,558.0 L2043.0,558.0 L1695.6,979.4" fill="none" stroke="#231f20" stroke-width="2.4" stroke-linejoin="miter"/>
<polygon points="1691.0,985.0 1690.1,968.7 1707.2,982.8" fill="#231f20" />
<path d="M770.9,734.5 L770.9,745.0 L1053.8,757.7" fill="none" stroke="#231f20" stroke-width="2.4" stroke-linejoin="miter"/>
<polygon points="1061.0,758.0 1048.5,768.6 1049.5,746.4" fill="#231f20" />
<path d="M982.0,1222.0 L1160.6,987.7" fill="none" stroke="#231f20" stroke-width="2.4" stroke-linejoin="miter"/>
<polygon points="1165.0,982.0 1166.6,998.3 1148.9,984.8" fill="#231f20" />
<path d="M1511.0,1310.6 L1511.3,1288.0 L1854.0,1203.7" fill="none" stroke="#231f20" stroke-width="2.4" stroke-linejoin="miter"/>
<polygon points="1861.0,1202.0 1852.0,1215.6 1846.7,1194.1" fill="#231f20" />
<path d="M1867.8,1375.2 L1867.4,1358.5 L2163.0,1292.6" fill="none" stroke="#231f20" stroke-width="2.4" stroke-linejoin="miter"/>
<polygon points="2170.0,1291.0 2160.7,1304.4 2155.9,1282.8" fill="#231f20" />
<defs><linearGradient id="melt1" x1="0" x2="1" y1="0" y2="0"><stop offset="0" stop-color="#e5272d"/><stop offset="0.12" stop-color="#ea4a27"/><stop offset="0.5" stop-color="#fdb30f"/><stop offset="0.85" stop-color="#ea5326"/><stop offset="1" stop-color="#de2230"/></linearGradient><linearGradient id="tun" gradientUnits="userSpaceOnUse" x1="1215" y1="441" x2="1254" y2="611"><stop offset="0" stop-color="#f0959d"/><stop offset="0.22" stop-color="#e6626d"/><stop offset="0.42" stop-color="#d8101f"/><stop offset="0.6" stop-color="#da222d"/><stop offset="1" stop-color="#dc5257"/></linearGradient><linearGradient id="melt2" x1="0" x2="1" y1="0" y2="0"><stop offset="0" stop-color="#e5272d"/><stop offset="0.12" stop-color="#ea4a27"/><stop offset="0.5" stop-color="#fdb30f"/><stop offset="0.85" stop-color="#ea5326"/><stop offset="1" stop-color="#de2230"/></linearGradient><linearGradient id="g2" gradientUnits="userSpaceOnUse" x1="1215.0" y1="650.0" x2="2500.0" y2="1225.0"><stop offset="0.013" stop-color="#de7b4f"/><stop offset="0.065" stop-color="#d06844"/><stop offset="0.120" stop-color="#c25840"/><stop offset="0.183" stop-color="#e08258"/><stop offset="0.246" stop-color="#da6a4b"/><stop offset="0.321" stop-color="#da4848"/><stop offset="0.392" stop-color="#e02a40"/><stop offset="0.465" stop-color="#e21a3a"/><stop offset="0.515" stop-color="#e00f34"/><stop offset="0.566" stop-color="#cc2542"/><stop offset="0.622" stop-color="#b9374b"/><stop offset="0.677" stop-color="#aa4b5f"/><stop offset="0.734" stop-color="#966478"/><stop offset="0.793" stop-color="#82788c"/><stop offset="0.851" stop-color="#6e87a0"/><stop offset="0.921" stop-color="#4e9fc0"/><stop offset="0.986" stop-color="#25b6e0"/></linearGradient><linearGradient id="g2s" gradientUnits="userSpaceOnUse" x1="1215.0" y1="650.0" x2="2500.0" y2="1225.0"><stop offset="0.013" stop-color="#d67349"/><stop offset="0.120" stop-color="#b9523b"/><stop offset="0.183" stop-color="#d07650"/><stop offset="0.321" stop-color="#cc4044"/><stop offset="0.465" stop-color="#cc1535"/><stop offset="0.566" stop-color="#b83048"/><stop offset="0.677" stop-color="#a2586c"/><stop offset="0.734" stop-color="#9a7488"/><stop offset="0.793" stop-color="#8a8ca2"/><stop offset="0.868" stop-color="#7ba6c4"/><stop offset="0.945" stop-color="#5fd0f2"/><stop offset="0.992" stop-color="#5ad6f8"/></linearGradient><linearGradient id="g1" gradientUnits="userSpaceOnUse" x1="1100.0" y1="790.0" x2="1900.0" y2="1200.0"><stop offset="0.020" stop-color="#de7b4f"/><stop offset="0.095" stop-color="#c8603f"/><stop offset="0.175" stop-color="#c96544"/><stop offset="0.240" stop-color="#e08458"/><stop offset="0.315" stop-color="#d9484a"/><stop offset="0.390" stop-color="#e0223d"/><stop offset="0.504" stop-color="#e0123a"/><stop offset="0.603" stop-color="#dc1035"/><stop offset="0.666" stop-color="#ba3750"/><stop offset="0.749" stop-color="#965f78"/><stop offset="0.821" stop-color="#6e7896"/><stop offset="0.890" stop-color="#5591b4"/><stop offset="0.965" stop-color="#2aaed7"/><stop offset="1.000" stop-color="#22b8e2"/></linearGradient><linearGradient id="g1s" gradientUnits="userSpaceOnUse" x1="1100.0" y1="790.0" x2="1900.0" y2="1200.0"><stop offset="0.020" stop-color="#d67349"/><stop offset="0.095" stop-color="#b9523b"/><stop offset="0.240" stop-color="#d07650"/><stop offset="0.390" stop-color="#cc1535"/><stop offset="0.614" stop-color="#c81032"/><stop offset="0.782" stop-color="#8a80a0"/><stop offset="0.876" stop-color="#6fb5d5"/><stop offset="0.951" stop-color="#5ad6f8"/></linearGradient><mask id="logomask" maskUnits="userSpaceOnUse" x="-100" y="-100" width="200" height="200"><circle r="80" fill="#fff"/><path d="M4.0,-82.0 L4.0,-30.0 Q4.0,-16.0 13.0,-12.0 L46.0,22.0" fill="none" stroke="#000" stroke-width="9.6"/><path d="M-82.0,4.0 L-30.0,4.0 Q-16.0,4.0 -12.0,13.0 L22.0,46.0" fill="none" stroke="#000" stroke-width="9.6"/><path d="M23.0,-80.0 L23.0,-42.0 Q23.0,-28.0 32.0,-24.0 L56.0,2.0" fill="none" stroke="#000" stroke-width="9.6"/><path d="M-80.0,23.0 L-42.0,23.0 Q-28.0,23.0 -24.0,32.0 L2.0,56.0" fill="none" stroke="#000" stroke-width="9.6"/><path d="M41.0,-72.0 L41.0,-44.0 Q41.0,-32.0 49.0,-28.0 L63.0,-12.0" fill="none" stroke="#000" stroke-width="9.6"/><path d="M-72.0,41.0 L-44.0,41.0 Q-32.0,41.0 -28.0,49.0 L-12.0,63.0" fill="none" stroke="#000" stroke-width="9.6"/><line x1="-6.0" y1="78.0" x2="72.0" y2="6.0" stroke="#000" stroke-width="3.2"/><line x1="8.0" y1="78.0" x2="76.0" y2="18.0" stroke="#000" stroke-width="2.6"/><line x1="22.0" y1="76.0" x2="78.0" y2="30.0" stroke="#000" stroke-width="2.2"/><line x1="36.0" y1="70.0" x2="70.0" y2="40.0" stroke="#000" stroke-width="1.8"/></mask><g id="logoB"><circle r="95.6" fill="none" stroke="#5b9bd0" stroke-width="8.8"/><circle r="80" fill="#5b9bd0" mask="url(#logomask)"/></g><g id="wm"><g transform="rotate(45) scale(0.30)" opacity="0.3"><use href="#logoB"/></g><text x="43.5" y="4.2" font-size="30" font-weight="900" letter-spacing="1.6" fill="#000" opacity="0.15" style="font-family:'Liberation Sans','Noto Sans CJK SC',sans-serif">长峡电气</text><text x="43.8" y="22.8" font-size="14.3" font-weight="700" textLength="126.8" lengthAdjust="spacingAndGlyphs" fill="#000" opacity="0.15" style="font-family:'DejaVu Sans','Liberation Sans',sans-serif">Changxia Electric</text></g><g id="wmb"><g transform="rotate(45) scale(0.30)" opacity="0.3"><use href="#logoB"/></g><text x="47.5" y="0.5" font-size="30" font-weight="900" letter-spacing="1.6" fill="#000" opacity="0.15" style="font-family:'Liberation Sans','Noto Sans CJK SC',sans-serif">长峡电气</text><text x="46.5" y="21.5" font-size="14.3" font-weight="700" textLength="128.0" lengthAdjust="spacingAndGlyphs" fill="#000" opacity="0.15" style="font-family:'DejaVu Sans','Liberation Sans',sans-serif">Changxia Electric</text></g></defs>
</svg></body></html>
